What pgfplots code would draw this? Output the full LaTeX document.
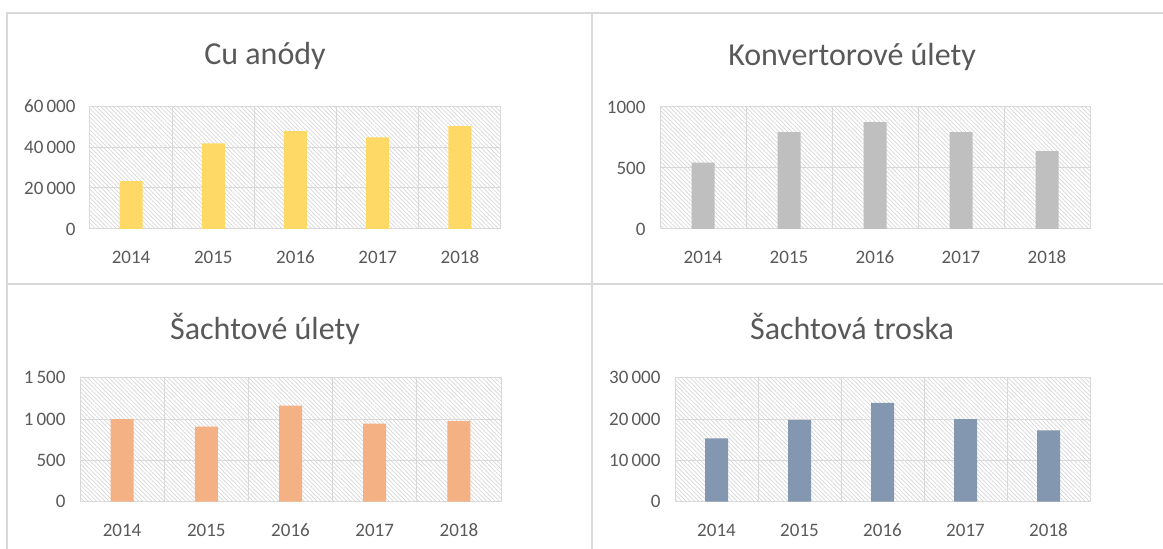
\documentclass[border=0pt]{standalone}
\usepackage{fontspec}
\setmainfont{Carlito}
\usepackage{pgfplots}
\pgfplotsset{compat=1.18}
\usetikzlibrary{patterns.meta}
\definecolor{txt}{HTML}{595959}
\definecolor{gridc}{HTML}{D9D9D9}
\definecolor{hatch}{HTML}{D6D6D6}
\definecolor{cyel}{HTML}{FFD966}
\definecolor{cgray}{HTML}{BFBFBF}
\definecolor{corange}{HTML}{F4B183}
\definecolor{cblue}{HTML}{8497B0}
\pgfplotsset{
  panel/.style={
    scale only axis,
    anchor=south west,
    xmin=-0.5, xmax=4.5,
    xtick={0,1,2,3,4},
    xticklabels={2014,2015,2016,2017,2018},
    minor xtick={-0.5,0.5,1.5,2.5,3.5,4.5},
    xminorgrids=true,
    ymajorgrids=true,
    ymin=0,
    scaled y ticks=false,
    major tick length=0pt, minor tick length=0pt,
    axis line style={draw=gridc, line width=1pt},
    grid style={draw=gridc, line width=1pt},
    minor grid style={draw=gridc, line width=1pt},
    ticklabel style={text=txt, font=\fontsize{19}{22}\selectfont},
    /pgf/number format/assume math mode=true,
    /pgf/number format/1000 sep={\,},
    xticklabel style={anchor=north, text height=14pt, text depth=0pt, yshift=-17pt},
    yticklabel style={xshift=-11pt},
    axis background/.style={pattern={Lines[angle=-45,distance=3pt,line width=0.7pt]}, pattern color=hatch},
    ybar, bar width=23pt, bar shift=0pt,
    clip=false,
  },
}
\begin{document}
\begin{tikzpicture}
\useasboundingbox (0pt,0pt) rectangle (1163pt,549pt);
% panel borders
\draw[gridc, line width=2pt] (6pt,536pt) -- (1163pt,536pt);
\draw[gridc, line width=2pt] (6pt,265pt) -- (1163pt,265pt);
\draw[gridc, line width=2pt] (7pt,537pt) -- (7pt,0pt);
\draw[gridc, line width=2pt] (592pt,537pt) -- (592pt,0pt);
% titles
\node[anchor=base, text=txt, font=\fontsize{32}{38}\selectfont] at (265pt,484pt) {Cu anódy};
\node[anchor=base, text=txt, font=\fontsize{32}{38}\selectfont] at (852pt,483pt) {Konvertorové úlety};
\node[anchor=base, text=txt, font=\fontsize{32}{38}\selectfont] at (265pt,209pt) {Šachtové úlety};
\node[anchor=base, text=txt, font=\fontsize{32}{38}\selectfont] at (852pt,209pt) {Šachtová troska};

\begin{axis}[panel, at={(90pt,320pt)}, width=411pt, height=123pt,
  ymax=60000, ytick={0,20000,40000,60000}]
\addplot[fill=cyel, draw=none] coordinates {(0,23400) (1,41800) (2,47800) (3,44700) (4,50200)};
\end{axis}

\begin{axis}[panel, at={(660pt,320pt)}, width=430pt, height=122pt,
  ymax=1000, ytick={0,500,1000}, /pgf/number format/1000 sep={}]
\addplot[fill=cgray, draw=none] coordinates {(0,543) (1,795) (2,877) (3,795) (4,639)};
\end{axis}

\begin{axis}[panel, at={(80pt,47.3pt)}, width=421pt, height=124pt,
  ymax=1500, ytick={0,500,1000,1500}]
\addplot[fill=corange, draw=none] coordinates {(0,1000) (1,907) (2,1161) (3,943) (4,976)};
\end{axis}

\begin{axis}[panel, at={(675pt,47.3pt)}, width=415pt, height=124pt,
  ymax=30000, ytick={0,10000,20000,30000}]
\addplot[fill=cblue, draw=none] coordinates {(0,15340) (1,19770) (2,23880) (3,20000) (4,17270)};
\end{axis}
\end{tikzpicture}
\end{document}
